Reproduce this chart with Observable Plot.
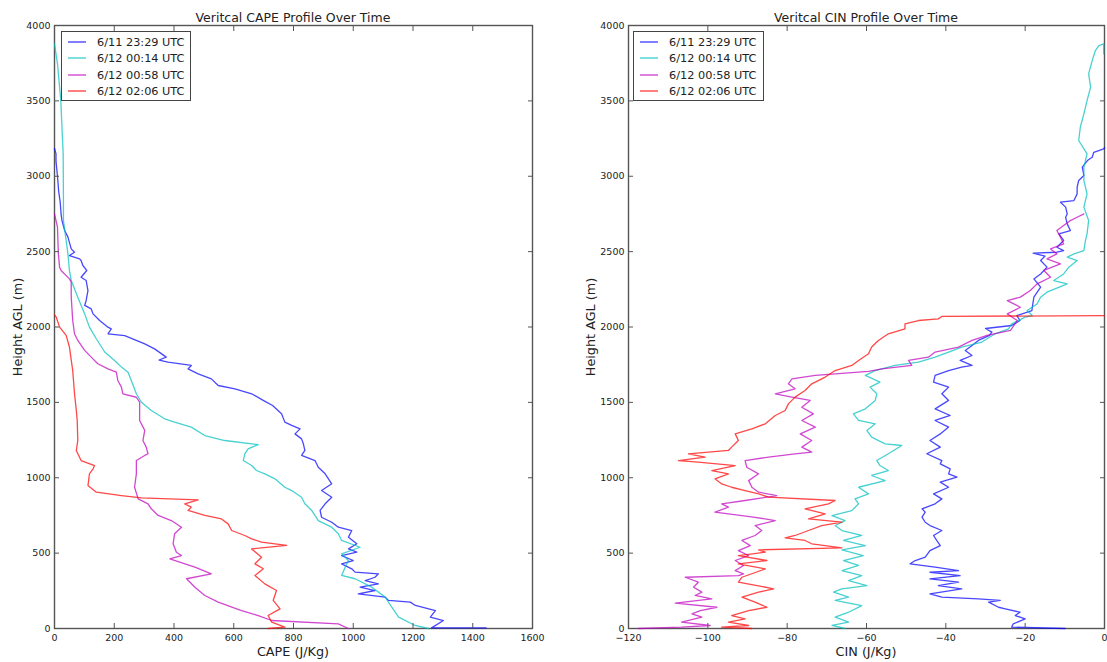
<!DOCTYPE html>
<html><head><meta charset="utf-8">
<script src="https://cdn.jsdelivr.net/npm/d3@7"></script>
<script src="https://cdn.jsdelivr.net/npm/@observablehq/plot@0.6"></script>
<style>
body{margin:0;background:#fff;font-family:"DejaVu Sans",sans-serif;color:#222;}
#wrap{position:relative;width:1107px;height:662px;overflow:hidden;background:#fff;}
.abs{position:absolute;white-space:nowrap;}
.title{font-size:12.5px;transform:translate(-50%,-50%);}
.xlab{font-size:12.8px;transform:translate(-50%,-50%);}
.ylab{font-size:12.8px;transform:translate(-50%,-50%) rotate(-90deg);}
.legend{border:1.3px solid #444;background:#fff;box-sizing:border-box;}
.legend svg{position:absolute;overflow:visible;}
.legend .lt{position:absolute;font-size:11.3px;transform:translateY(-50%);}
</style></head><body><div id="wrap"></div>
<script>
const series = ["6/11 23:29 UTC", "6/12 00:14 UTC", "6/12 00:58 UTC", "6/12 02:06 UTC"];
const colors = ["#0000ff", "#00bfbf", "#bf00bf", "#ff0000"];
const yTicks = [0, 500, 1000, 1500, 2000, 2500, 3000, 3500, 4000];
const capeTicks = [0, 200, 400, 600, 800, 1000, 1200, 1400, 1600];
const cinTicks = [-120, -100, -80, -60, -40, -20, 0];

// [height AGL (m), CAPE (J/Kg)]
const capeBlue = [[4,1445],[4,1262],[53,1302],[75,1258],[119,1275],[153,1208],[175,1191],[186,1118],[208,1107],[230,1017],[252,1073],[274,1023],[296,1084],[318,1040],[340,1073],[363,1084],[374,1006],[396,995],[429,961],[451,1000],[484,961],[506,1012],[528,984],[562,1012],[606,984],[650,995],[672,950],[705,928],[738,894],[783,889],[827,906],[871,928],[915,894],[960,928],[993,917],[1026,906],[1070,883],[1114,872],[1148,827],[1181,838],[1225,833],[1258,827],[1291,805],[1324,822],[1347,794],[1369,771],[1424,760],[1479,730],[1512,700],[1557,660],[1590,604],[1612,548],[1656,525],[1689,481],[1722,447],[1745,458],[1767,380],[1781,350],[1800,374],[1855,335],[1888,302],[1943,235],[1955,179],[1988,190],[1999,179],[2043,151],[2087,129],[2120,123],[2143,101],[2176,106],[2242,112],[2308,106],[2330,89],[2375,108],[2408,95],[2441,89],[2452,84],[2474,50],[2496,67],[2518,56],[2596,45],[2640,34],[2706,25],[2750,22],[2830,19],[2900,14],[3000,10],[3100,5],[3150,5],[3184,0]];
const capeCyan = [[0,1252],[20,1207],[75,1152],[141,1129],[208,1107],[274,1062],[330,1006],[352,961],[407,973],[451,984],[495,961],[539,1023],[584,961],[628,950],[672,928],[716,883],[783,861],[827,838],[871,827],[915,794],[937,771],[993,738],[1026,704],[1048,676],[1081,660],[1114,632],[1159,637],[1192,648],[1220,682],[1247,570],[1280,503],[1336,458],[1369,402],[1391,369],[1446,324],[1501,291],[1557,274],[1645,257],[1700,246],[1734,224],[1778,201],[1834,168],[1922,140],[1999,117],[2087,101],[2198,78],[2308,56],[2375,50],[2485,45],[2574,39],[2706,30],[2818,30],[3149,29],[3502,21],[3746,10],[3878,0]];
const capeMagenta = [[0,984],[31,950],[53,727],[86,682],[119,626],[175,548],[219,503],[274,470],[330,442],[363,525],[407,470],[462,386],[484,425],[506,408],[562,397],[628,402],[672,425],[716,391],[750,347],[794,324],[827,313],[860,280],[937,268],[1026,274],[1114,274],[1148,302],[1159,313],[1203,307],[1247,296],[1314,302],[1380,285],[1424,285],[1501,285],[1534,274],[1557,229],[1601,224],[1645,212],[1700,207],[1722,179],[1756,145],[1800,123],[1845,101],[1911,78],[1955,67],[2043,61],[2198,56],[2297,56],[2319,50],[2375,22],[2397,17],[2485,13],[2596,11],[2662,10],[2750,0]];
const capeRed = [[0,715],[9,771],[42,727],[86,715],[130,755],[186,732],[252,743],[296,704],[352,671],[396,699],[429,671],[473,693],[528,660],[551,777],[573,693],[595,660],[617,637],[650,593],[694,581],[727,559],[750,503],[783,447],[805,458],[827,436],[853,481],[866,291],[882,224],[904,140],[948,112],[1026,117],[1059,129],[1081,134],[1114,89],[1181,73],[1247,78],[1380,76],[1446,73],[1557,67],[1711,61],[1867,50],[1944,39],[1999,17],[2065,6],[2080,0]];

// [height AGL (m), CIN (J/Kg)]
const cinBlue = [[0,-9.9],[9,-23.4],[31,-23],[64,-20],[86,-22.5],[108,-21.3],[130,-25],[141,-26.7],[175,-29.2],[186,-26.3],[197,-31.8],[208,-41],[230,-44],[263,-36],[285,-41.9],[307,-36.8],[329,-44],[351,-36.4],[373,-44],[384,-36.8],[407,-42.7],[429,-49],[451,-47.7],[473,-45.2],[517,-44],[550,-41.4],[584,-42.3],[617,-43.1],[650,-41],[683,-44],[705,-45.2],[739,-46],[772,-45.2],[794,-46],[827,-42.7],[860,-41],[893,-43.1],[937,-39.3],[971,-41.4],[1004,-37.2],[1026,-39.3],[1059,-38.9],[1092,-41.4],[1114,-41],[1159,-44.8],[1203,-41.4],[1247,-44],[1291,-41.4],[1336,-39.3],[1380,-42.7],[1413,-38.9],[1457,-42.7],[1513,-39.3],[1557,-41],[1601,-39.3],[1634,-43.1],[1679,-42.7],[1711,-39.3],[1734,-36],[1745,-33.4],[1778,-36.4],[1811,-33.4],[1844,-35.1],[1877,-33.4],[1911,-31.8],[1944,-29],[1966,-28.4],[1990,-30],[2010,-23.4],[2043,-21.3],[2076,-22.1],[2109,-18.3],[2131,-18.2],[2198,-17.8],[2264,-16.1],[2319,-17.8],[2352,-16.1],[2397,-14.5],[2441,-16.1],[2470,-15],[2490,-18],[2496,-12],[2507,-10.3],[2529,-12],[2574,-10.3],[2618,-11.5],[2640,-8.6],[2684,-9.4],[2728,-9.8],[2750,-9.4],[2795,-9.8],[2828,-11.1],[2839,-7.7],[2883,-6.9],[2927,-6.9],[2972,-6.5],[3005,-5.2],[3060,-5.6],[3104,-4.3],[3126,-3.1],[3159,-2.7],[3182,-0.2],[3190,0]];
const cinCyan = [[0,-65.4],[20,-68.7],[42,-64.5],[75,-67.9],[108,-64.5],[152,-61.2],[186,-67.9],[208,-64.5],[241,-68.3],[263,-66.2],[285,-59.9],[318,-64.5],[351,-61.2],[384,-66.2],[418,-62],[451,-65.8],[484,-60.8],[522,-66.2],[550,-60.3],[584,-65.8],[617,-61.2],[650,-66.2],[683,-67.9],[716,-65.4],[749,-68.7],[782,-63.7],[827,-62],[860,-62.9],[893,-59.5],[937,-62],[981,-55.3],[1015,-58.7],[1048,-54.5],[1081,-56.6],[1114,-57.4],[1159,-54.5],[1214,-51.1],[1225,-55.3],[1269,-58.7],[1313,-59.9],[1358,-57.8],[1380,-62],[1424,-63.3],[1457,-60.3],[1513,-57.8],[1557,-57.4],[1601,-59.1],[1634,-56.6],[1679,-60.3],[1711,-57.8],[1745,-52.8],[1767,-46.9],[1800,-42.7],[1834,-39.3],[1867,-36],[1900,-30.9],[1955,-27.6],[1988,-24.2],[2021,-23.4],[2065,-20],[2076,-18.2],[2109,-19.5],[2153,-17],[2198,-16.1],[2231,-14.5],[2286,-9.4],[2308,-12.8],[2352,-10.3],[2397,-9],[2441,-6.9],[2463,-9.4],[2485,-7.7],[2507,-5.2],[2574,-4.8],[2618,-4.4],[2706,-4],[2795,-5.2],[2883,-4.4],[2972,-5.2],[3060,-5.2],[3149,-4.4],[3237,-6.5],[3325,-6.1],[3414,-5.2],[3502,-4.4],[3591,-3.5],[3679,-4],[3767,-3.1],[3834,-2.3],[3867,-1.4],[3878,-0.2],[3812,-0.2]];
const cinMagenta = [[0,-117.5],[9,-106.6],[20,-99.4],[42,-106.6],[75,-101.5],[97,-104],[119,-101.9],[141,-97.7],[168,-108.2],[197,-99],[219,-103.2],[241,-101.5],[274,-103.6],[307,-102.4],[340,-105.7],[351,-92.3],[363,-91],[384,-93.1],[418,-91],[451,-93.1],[484,-89.7],[517,-92.3],[550,-89.3],[584,-91.4],[617,-88.1],[650,-86.4],[683,-88.1],[716,-83],[739,-88.5],[772,-98.2],[805,-94.8],[827,-96.5],[849,-90.6],[882,-82.6],[904,-87.2],[937,-88.9],[981,-89.7],[1026,-87.2],[1070,-90.2],[1114,-90.6],[1137,-84.7],[1159,-78],[1170,-73.8],[1203,-76.3],[1247,-73.8],[1291,-76.7],[1336,-72.9],[1380,-76.3],[1424,-73.4],[1468,-76.3],[1513,-74.2],[1535,-78.8],[1557,-83],[1590,-78],[1623,-79.7],[1656,-78.8],[1679,-72.9],[1706,-59.5],[1722,-56.1],[1745,-48.6],[1778,-49.4],[1800,-44.4],[1834,-42.7],[1867,-36.8],[1911,-33.4],[1944,-29.6],[1977,-23.7],[2043,-22],[2087,-24.5],[2131,-21.2],[2175,-24.5],[2198,-21.2],[2242,-18.7],[2286,-17],[2330,-13.6],[2375,-15.3],[2419,-11.1],[2452,-14.5],[2485,-12],[2518,-13.6],[2551,-10.3],[2596,-11.1],[2640,-12],[2673,-10.3],[2706,-8.6],[2728,-6.9],[2750,-5.2]];
const cinRed = [[0,-88.9],[9,-96.5],[20,-89.7],[42,-94.8],[64,-90.6],[86,-94],[119,-89.7],[141,-85.1],[175,-88.1],[208,-91.4],[241,-87.2],[263,-83.4],[285,-87.6],[307,-92.3],[340,-91.4],[395,-85.5],[429,-92.3],[451,-85.1],[484,-92.3],[506,-85.5],[522,-87.2],[535,-66.2],[562,-73.8],[584,-75.5],[601,-80.5],[617,-78],[650,-74.6],[683,-71.3],[705,-66.2],[727,-74.6],[761,-70.4],[794,-75.5],[827,-69.6],[849,-67.9],[871,-84.7],[893,-87.2],[915,-90.6],[937,-94],[959,-96.5],[993,-98.2],[1026,-94.8],[1048,-99],[1081,-93.1],[1103,-102.4],[1114,-107.4],[1137,-100.7],[1159,-104.9],[1181,-94.8],[1203,-94],[1247,-92.3],[1291,-93.1],[1324,-88.9],[1358,-85.5],[1413,-83],[1446,-80.5],[1490,-79.7],[1535,-78],[1579,-75.5],[1623,-73.8],[1668,-70.4],[1711,-67.9],[1745,-63.7],[1778,-62],[1822,-59.5],[1867,-58.7],[1911,-57],[1955,-54.5],[1988,-50.3],[2021,-50.3],[2043,-46.9],[2054,-41.9],[2070,-41],[2076,0]];

const capeSeries = [capeBlue, capeCyan, capeMagenta, capeRed];
const cinSeries = [cinBlue, cinCyan, cinMagenta, cinRed];

function rows(list) {
  return list.flatMap((arr, i) => arr.map(([h, v]) => ({h, v, s: series[i]})));
}

const fmt = d3.format("d");
const frameColor = "#555";

function panel({data, xDomain, xTicks, width, marginLeft, marginRight}) {
  const tickOpts = {stroke: frameColor, fill: "none", label: null, tickSize: -5};
  return Plot.plot({
    width, height: 662,
    marginTop: 25, marginBottom: 34, marginLeft, marginRight,
    style: {fontFamily: "DejaVu Sans", fontSize: "9.5px", color: "#222", background: "transparent", overflow: "visible"},
    x: {domain: xDomain},
    y: {domain: [0, 4000]},
    color: {domain: series, range: colors},
    marks: [
      Plot.frame({stroke: frameColor, strokeWidth: 1.4}),
      Plot.line(data, {x: "v", y: "h", z: "s", stroke: "s", strokeWidth: 1.3, strokeOpacity: 0.72}),
      Plot.axisX({anchor: "bottom", ticks: xTicks, tickSize: 0, tickPadding: 5.5, tickFormat: fmt, label: null, fill: "#222"}),
      Plot.axisX({anchor: "bottom", ticks: xTicks, ...tickOpts}),
      Plot.axisX({anchor: "top", ticks: xTicks, ...tickOpts}),
      Plot.axisY({anchor: "left", ticks: yTicks, tickSize: 0, tickPadding: 4, tickFormat: fmt, label: null, fill: "#222"}),
      Plot.axisY({anchor: "left", ticks: yTicks, ...tickOpts}),
      Plot.axisY({anchor: "right", ticks: yTicks, ...tickOpts})
    ]
  });
}

const wrap = document.getElementById("wrap");
function place(el, left, top) {
  el.style.position = "absolute"; el.style.left = left + "px"; el.style.top = top + "px";
  wrap.appendChild(el);
}
function label(text, cls, x, y) {
  const d = document.createElement("div");
  d.className = "abs " + cls; d.textContent = text;
  d.style.left = x + "px"; d.style.top = y + "px";
  wrap.appendChild(d);
}
const SVGNS = "http://www.w3.org/2000/svg";
function legend(x, y, w, h) {
  const box = document.createElement("div");
  box.className = "abs legend";
  box.style.left = x + "px"; box.style.top = y + "px";
  box.style.width = w + "px"; box.style.height = h + "px";
  const rowY = [9.5, 26, 42.5, 59];
  series.forEach((s, i) => {
    const svg = document.createElementNS(SVGNS, "svg");
    svg.setAttribute("width", "20"); svg.setAttribute("height", "4");
    svg.style.left = "6px"; svg.style.top = (rowY[i] - 2) + "px";
    const ln = document.createElementNS(SVGNS, "line");
    ln.setAttribute("x1", "0"); ln.setAttribute("x2", "18");
    ln.setAttribute("y1", "2"); ln.setAttribute("y2", "2");
    ln.setAttribute("stroke", colors[i]); ln.setAttribute("stroke-width", "1.4");
    ln.setAttribute("stroke-opacity", "0.72");
    svg.appendChild(ln);
    const t = document.createElement("div");
    t.className = "lt"; t.textContent = s;
    t.style.left = "35px"; t.style.top = rowY[i] + "px";
    box.appendChild(svg); box.appendChild(t);
  });
  wrap.appendChild(box);
}

const left = panel({data: rows(capeSeries), xDomain: [0, 1600], xTicks: capeTicks, width: 560, marginLeft: 54, marginRight: 28});
place(left, 0, 0);
const right = panel({data: rows(cinSeries), xDomain: [-120, 0], xTicks: cinTicks, width: 547, marginLeft: 68, marginRight: 3});
place(right, 560, 0);

label("Veritcal CAPE Profile Over Time", "title", 293, 17);
label("Veritcal CIN Profile Over Time", "title", 866, 17);
label("CAPE (J/Kg)", "xlab", 293, 651);
label("CIN (J/Kg)", "xlab", 866, 651);
label("Height AGL (m)", "ylab", 17, 327);
label("Height AGL (m)", "ylab", 590, 327);
legend(61, 31, 130, 70);
legend(633, 31, 131, 70);
</script>
</body></html>
